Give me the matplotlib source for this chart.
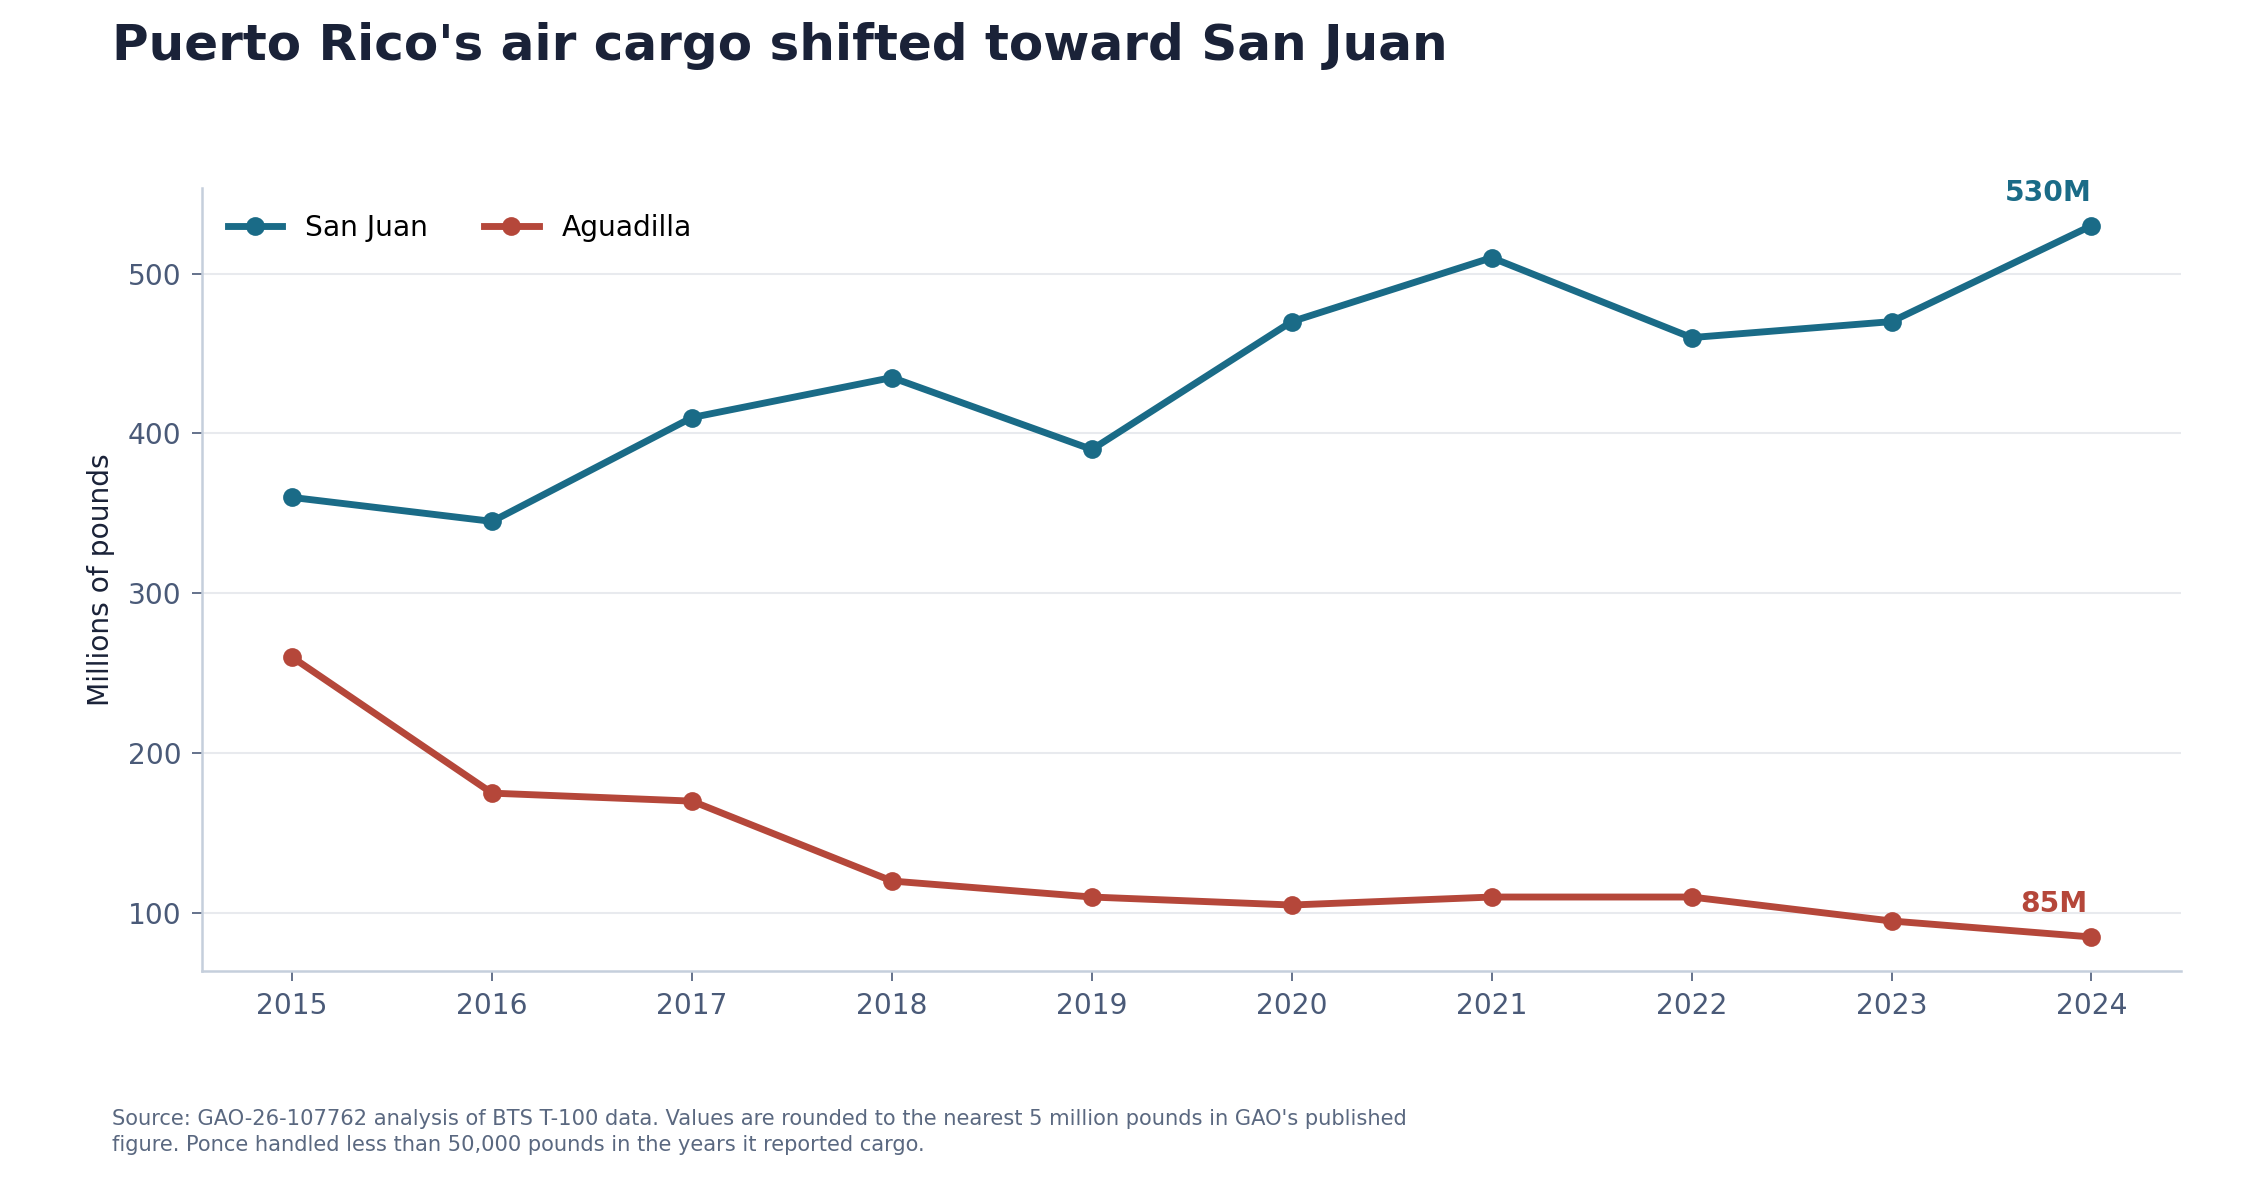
import matplotlib
matplotlib.use("Agg")
from matplotlib import pyplot as plt

# Air cargo by airport, millions of pounds (GAO figure, rounded to nearest 5M)
years = [2015, 2016, 2017, 2018, 2019, 2020, 2021, 2022, 2023, 2024]
sanJuan = [360, 345, 410, 435, 390, 470, 510, 460, 470, 530]
aguadilla = [260, 175, 170, 120, 110, 105, 110, 110, 95, 85]
yTicks = [100, 200, 300, 400, 500]

blue = "#1a6b87"
red = "#b5473a"
slate = "#4a5a78"

fig = plt.figure(figsize=(15, 7.92), dpi=150)
ax = fig.add_axes([0.0899, 0.1827, 0.8796, 0.6594])

ax.plot(years, sanJuan, color=blue, lw=3.3, marker="o", ms=8, label="San Juan", zorder=3)
ax.plot(years, aguadilla, color=red, lw=3.3, marker="o", ms=8, label="Aguadilla", zorder=3)

# подписи последних значений
ax.annotate(f"{sanJuan[-1]}M", (years[-1], sanJuan[-1]), xytext=(0, 9), textcoords="offset points",
            ha="right", va="bottom", color=blue, fontsize=13.5, fontweight="bold")
ax.annotate(f"{aguadilla[-1]}M", (years[-1], aguadilla[-1]), xytext=(-2, 9), textcoords="offset points",
            ha="right", va="bottom", color=red, fontsize=13.5, fontweight="bold")

ax.set_xlim(2014.55, 2024.45)
ax.set_ylim(63.75, 553.85)
ax.set_xticks(years)
ax.set_yticks(yTicks)
ax.tick_params(colors=slate, labelsize=13.5, length=5, pad=5)
ax.set_ylabel("Millions of pounds", fontsize=13.5, color="#1a2238", labelpad=6)

ax.grid(axis="y", color="#e8eaee", lw=1)
ax.set_axisbelow(True)
for side in ["top", "right"]:
    ax.spines[side].set_visible(False)
for side in ["left", "bottom"]:
    ax.spines[side].set_color("#c5cfdc")
    ax.spines[side].set_linewidth(1.2)

ax.legend(loc="upper left", ncol=2, frameon=False, fontsize=13.5, handlelength=1.95,
          columnspacing=2.0, bbox_to_anchor=(0.0, 0.999))

fig.text(0.05, 1 - 46 / 1188, "Puerto Rico's air cargo shifted toward San Juan",
         fontsize=24, fontweight="bold", color="#1a2238", va="center", ha="left")
fig.text(0.05, 0.0664,
         "Source: GAO-26-107762 analysis of BTS T-100 data. Values are rounded to the nearest 5 million pounds in GAO's published\n"
         "figure. Ponce handled less than 50,000 pounds in the years it reported cargo.",
         fontsize=10.1, color="#5a6880", va="top", ha="left", linespacing=1.35)

fig.savefig("out.png", dpi=150)
